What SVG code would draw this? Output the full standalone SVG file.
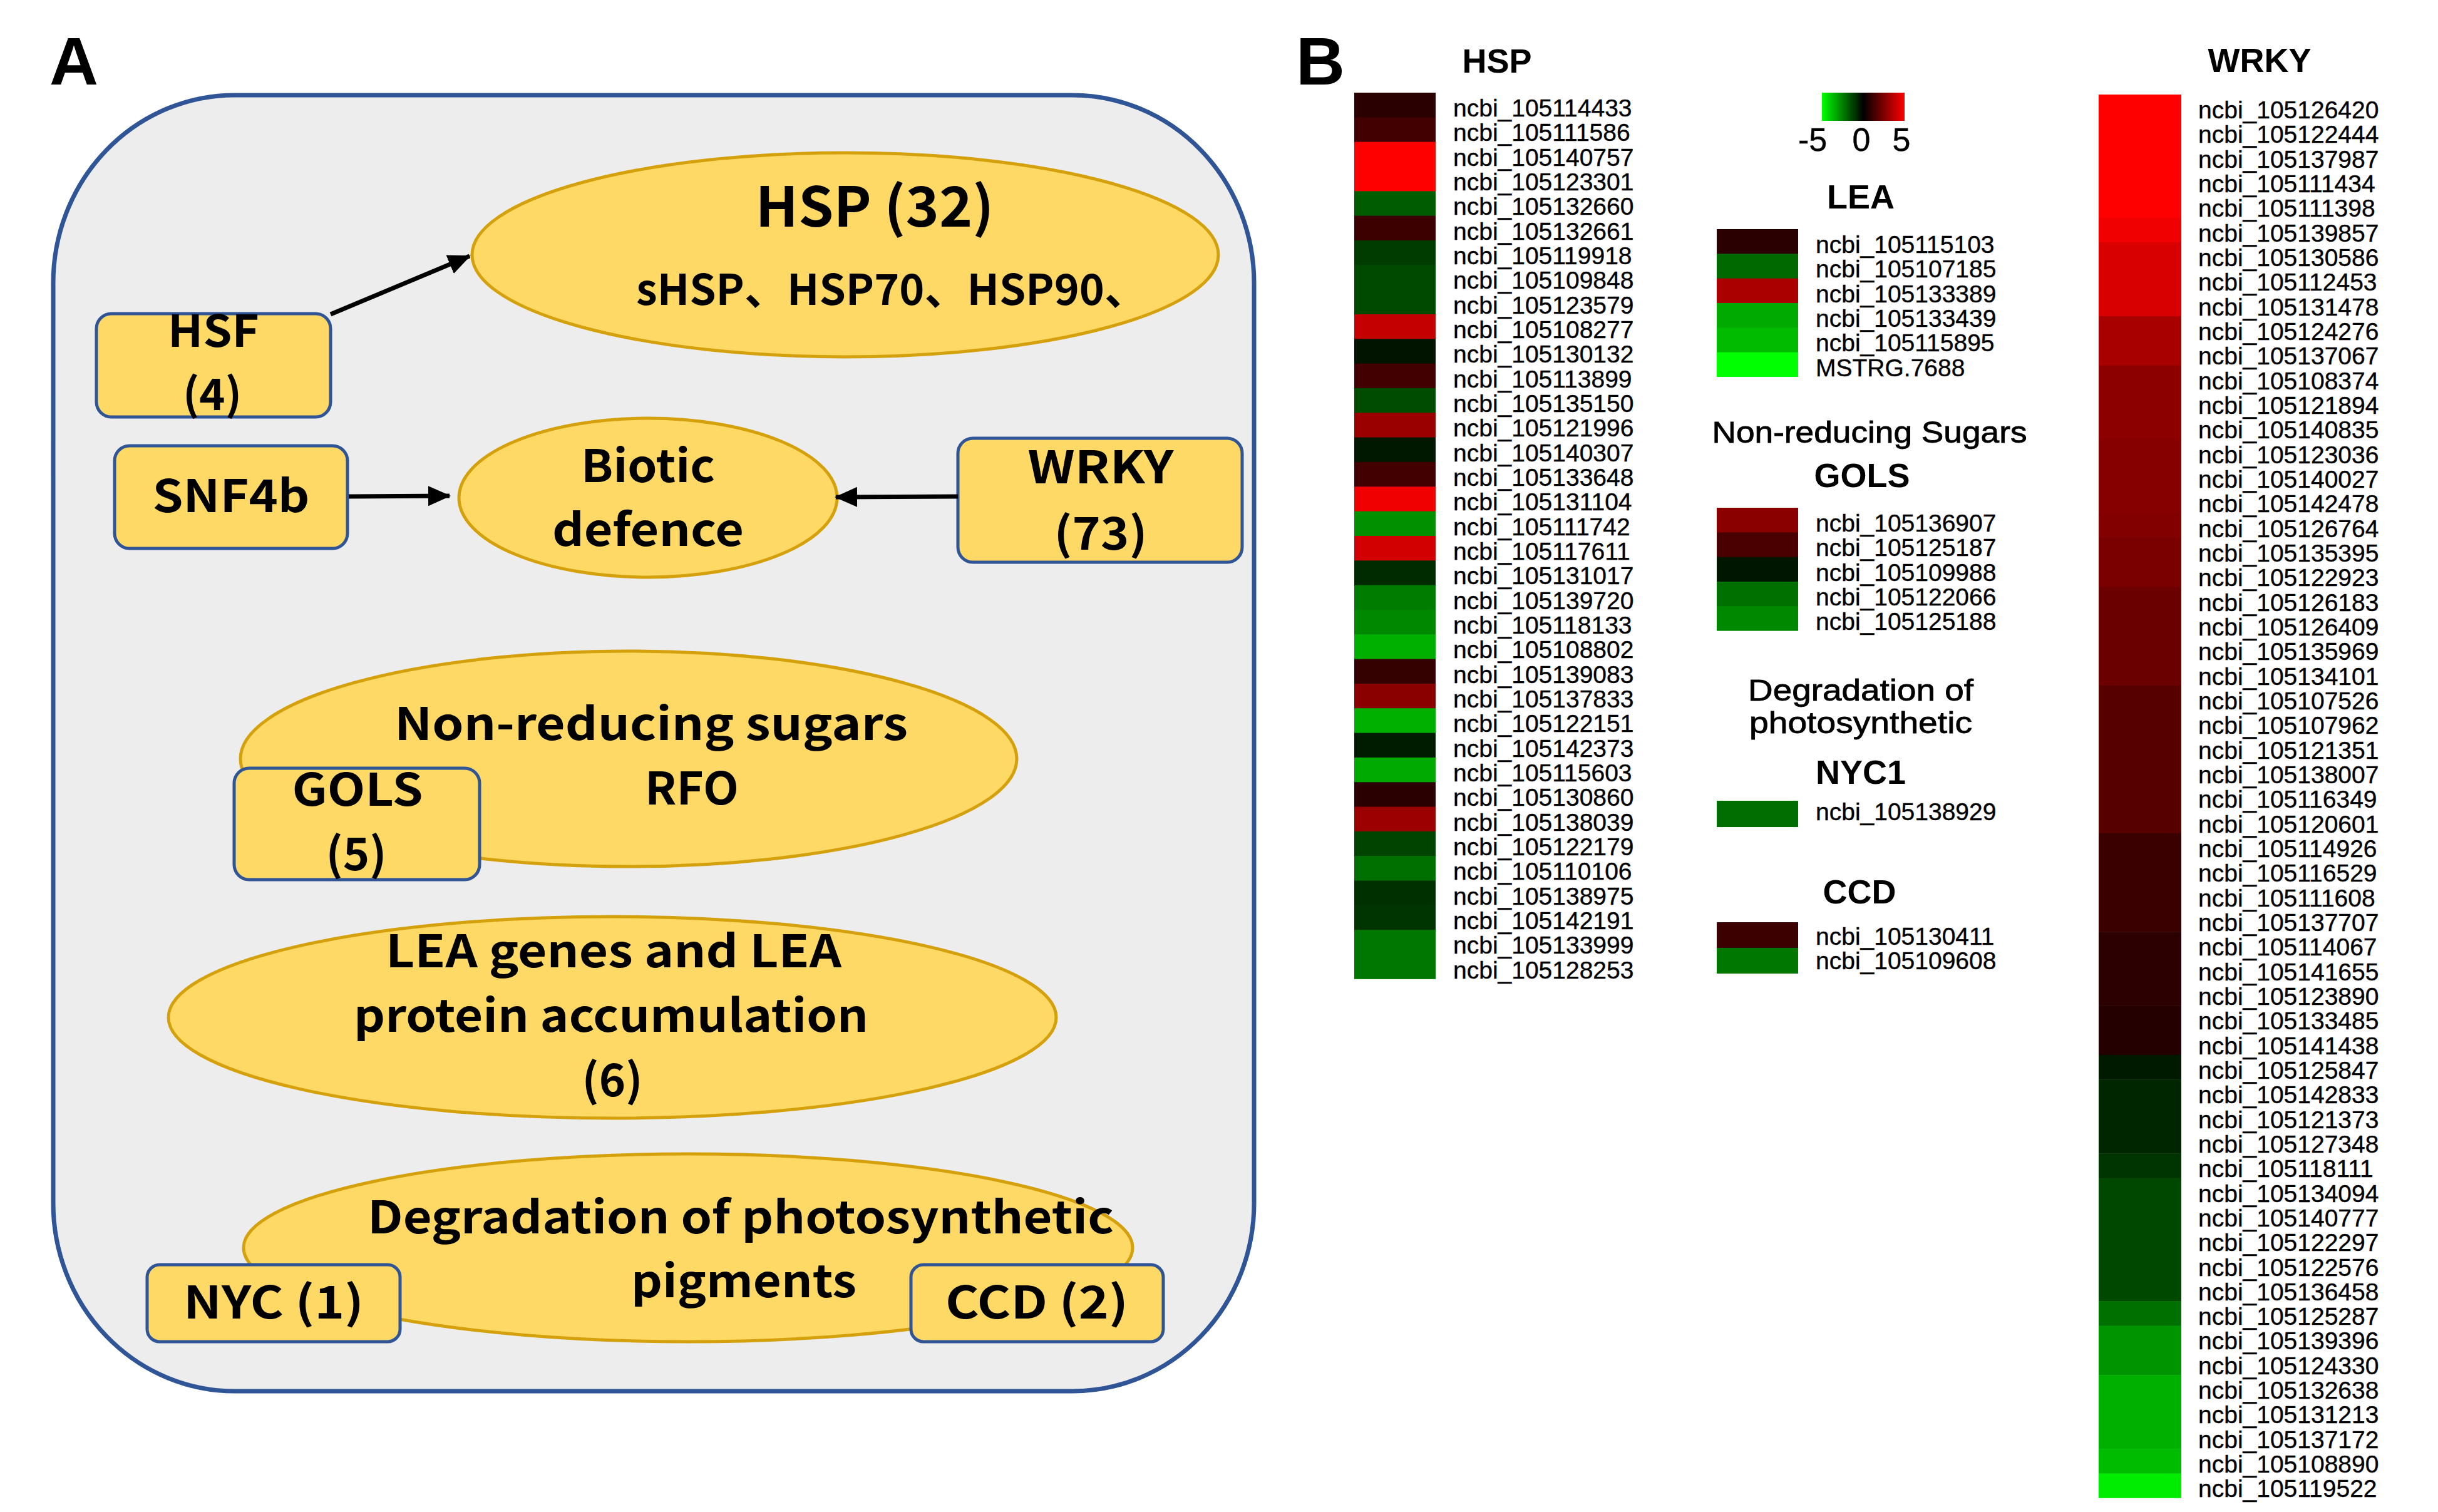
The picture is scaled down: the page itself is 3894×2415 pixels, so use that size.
<svg xmlns="http://www.w3.org/2000/svg" width="3894" height="2415" viewBox="0 0 3894 2415">
<style>
.ell{fill:#ffd966;stroke:#d4a10c;stroke-width:5}
.box{fill:#ffd966;stroke:#2f5597;stroke-width:5}
.ta{font-family:"Noto Sans CJK SC","Liberation Sans",sans-serif;font-weight:bold;fill:#000;text-anchor:middle}
.lab{font-family:"Liberation Sans",Arial,sans-serif;font-size:39px;fill:#000;stroke:#000;stroke-width:0.4}
.tt{font-family:"Liberation Sans",Arial,sans-serif;font-weight:bold;font-size:54px;fill:#000;text-anchor:middle}
.tl{font-family:"Liberation Sans",Arial,sans-serif;font-size:48px;fill:#000;stroke:#000;stroke-width:0.8;text-anchor:middle}
.pl{font-family:"Liberation Sans",Arial,sans-serif;font-weight:bold;font-size:108px;fill:#000}
.conn{stroke:#000;stroke-width:7;fill:none;marker-end:url(#ah)}
</style>
<defs>
<marker id="ah" markerUnits="userSpaceOnUse" markerWidth="40" markerHeight="36" refX="34" refY="16" orient="auto">
<path d="M0,0 L36,16 L0,32 z" fill="#000"/>
</marker>
<linearGradient id="cbar" x1="0" y1="0" x2="1" y2="0">
<stop offset="0" stop-color="#00ff00"/>
<stop offset="0.5" stop-color="#000000"/>
<stop offset="1" stop-color="#ff0000"/>
</linearGradient>
</defs>
<rect width="3894" height="2415" fill="#ffffff"/>

<!-- Panel A -->
<text class="pl" x="79" y="135">A</text>
<rect id="panelA-bg" x="85" y="152" width="1918" height="2070" rx="290" ry="300" fill="#ededed" stroke="#2f5597" stroke-width="7"/>

<g id="n-hsp">
<ellipse class="ell" cx="1350" cy="407" rx="596" ry="163"/>
<text class="ta" x="1397" y="362" font-size="88" textLength="381" lengthAdjust="spacingAndGlyphs">HSP (32)</text>
<text class="ta" x="1016" y="487" font-size="68" style="text-anchor:start">sHSP、HSP70、HSP90、</text>
</g>
<g id="n-hsf">
<rect class="box" x="154" y="501" width="374" height="165" rx="24"/>
<text class="ta" x="341" y="554" font-size="70" textLength="146" lengthAdjust="spacingAndGlyphs">HSF</text>
<text class="ta" x="339" y="655" font-size="70">(4)</text>
</g>
<g id="n-snf4b">
<rect class="box" x="183" y="712" width="372" height="164" rx="24"/>
<text class="ta" x="369" y="818" font-size="72" textLength="251" lengthAdjust="spacingAndGlyphs">SNF4b</text>
</g>
<g id="n-biotic">
<ellipse class="ell" cx="1035" cy="795" rx="302" ry="127"/>
<text class="ta" x="1035" y="770" font-size="72" textLength="214" lengthAdjust="spacingAndGlyphs">Biotic</text>
<text class="ta" x="1035" y="872" font-size="72" textLength="306" lengthAdjust="spacingAndGlyphs">defence</text>
</g>
<g id="n-wrky">
<rect class="box" x="1530" y="700" width="454" height="198" rx="24"/>
<text class="ta" x="1758" y="772" font-size="72" textLength="233" lengthAdjust="spacingAndGlyphs">WRKY</text>
<text class="ta" x="1758" y="878" font-size="72" textLength="149" lengthAdjust="spacingAndGlyphs">(73)</text>
</g>
<g id="n-nonreducing">
<ellipse class="ell" cx="1004" cy="1212" rx="620" ry="172"/>
<text class="ta" x="1040" y="1182" font-size="72" textLength="820" lengthAdjust="spacingAndGlyphs">Non-reducing sugars</text>
<text class="ta" x="1105" y="1285" font-size="72" textLength="150" lengthAdjust="spacingAndGlyphs">RFO</text>
</g>
<g id="n-gols">
<rect class="box" x="374" y="1227" width="392" height="178" rx="24"/>
<text class="ta" x="571" y="1287" font-size="72" textLength="209" lengthAdjust="spacingAndGlyphs">GOLS</text>
<text class="ta" x="569" y="1390" font-size="72">(5)</text>
</g>
<g id="n-lea">
<ellipse class="ell" cx="978" cy="1625" rx="709" ry="161"/>
<text class="ta" x="980" y="1545" font-size="72" textLength="728" lengthAdjust="spacingAndGlyphs">LEA genes and LEA</text>
<text class="ta" x="976" y="1648" font-size="72" textLength="822" lengthAdjust="spacingAndGlyphs">protein accumulation</text>
<text class="ta" x="978" y="1751" font-size="72">(6)</text>
</g>
<g id="n-degradation">
<ellipse class="ell" cx="1099" cy="1993" rx="710" ry="150"/>
<text class="ta" x="1183" y="1970" font-size="72" textLength="1192" lengthAdjust="spacingAndGlyphs">Degradation of photosynthetic</text>
<text class="ta" x="1188" y="2072" font-size="72" textLength="360" lengthAdjust="spacingAndGlyphs">pigments</text>
</g>
<g id="n-nyc">
<rect class="box" x="235" y="2020" width="404" height="123" rx="20"/>
<text class="ta" x="437" y="2106" font-size="72" textLength="288" lengthAdjust="spacingAndGlyphs">NYC (1)</text>
</g>
<g id="n-ccd">
<rect class="box" x="1455" y="2020" width="403" height="123" rx="20"/>
<text class="ta" x="1656" y="2106" font-size="72" textLength="292" lengthAdjust="spacingAndGlyphs">CCD (2)</text>
</g>

<g id="connectors">
<line class="conn" x1="528" y1="502" x2="750" y2="409"/>
<line class="conn" x1="557" y1="793" x2="718" y2="792"/>
<line class="conn" x1="1530" y1="793" x2="1335" y2="794"/>
</g>

<!-- Panel B -->
<text class="pl" x="2070" y="135">B</text>

<g id="hm-hsp">
<text class="tt" x="2391" y="116">HSP</text>
<g transform="translate(2163,148)">
<rect x="0" y="0" width="130" height="40" fill="#2a0000"/>
<rect x="0" y="39.33" width="130" height="40" fill="#420000"/>
<rect x="0" y="78.66" width="130" height="40" fill="#ff0000"/>
<rect x="0" y="117.99" width="130" height="40" fill="#ff0000"/>
<rect x="0" y="157.32" width="130" height="40" fill="#005c00"/>
<rect x="0" y="196.65" width="130" height="40" fill="#3c0000"/>
<rect x="0" y="235.98" width="130" height="40" fill="#003c00"/>
<rect x="0" y="275.31" width="130" height="40" fill="#004a00"/>
<rect x="0" y="314.64" width="130" height="40" fill="#004a00"/>
<rect x="0" y="353.97" width="130" height="40" fill="#c40000"/>
<rect x="0" y="393.3" width="130" height="40" fill="#001400"/>
<rect x="0" y="432.63" width="130" height="40" fill="#420000"/>
<rect x="0" y="471.96" width="130" height="40" fill="#004c00"/>
<rect x="0" y="511.29" width="130" height="40" fill="#9a0000"/>
<rect x="0" y="550.62" width="130" height="40" fill="#001800"/>
<rect x="0" y="589.95" width="130" height="40" fill="#420000"/>
<rect x="0" y="629.28" width="130" height="40" fill="#f00000"/>
<rect x="0" y="668.61" width="130" height="40" fill="#009000"/>
<rect x="0" y="707.94" width="130" height="40" fill="#d20000"/>
<rect x="0" y="747.27" width="130" height="40" fill="#002a00"/>
<rect x="0" y="786.6" width="130" height="40" fill="#007c00"/>
<rect x="0" y="825.93" width="130" height="40" fill="#008800"/>
<rect x="0" y="865.26" width="130" height="40" fill="#00b000"/>
<rect x="0" y="904.59" width="130" height="40" fill="#340000"/>
<rect x="0" y="943.92" width="130" height="40" fill="#8a0000"/>
<rect x="0" y="983.25" width="130" height="40" fill="#00b000"/>
<rect x="0" y="1022.58" width="130" height="40" fill="#001c00"/>
<rect x="0" y="1061.91" width="130" height="40" fill="#00aa00"/>
<rect x="0" y="1101.24" width="130" height="40" fill="#2a0000"/>
<rect x="0" y="1140.57" width="130" height="40" fill="#9c0000"/>
<rect x="0" y="1179.9" width="130" height="40" fill="#004400"/>
<rect x="0" y="1219.23" width="130" height="40" fill="#007000"/>
<rect x="0" y="1258.56" width="130" height="40" fill="#003000"/>
<rect x="0" y="1297.89" width="130" height="40" fill="#003400"/>
<rect x="0" y="1337.22" width="130" height="40" fill="#007800"/>
<rect x="0" y="1376.55" width="130" height="39.33" fill="#007800"/>
</g>
<text class="lab" x="2321" y="186"><tspan x="2321" dy="0">ncbi_105114433</tspan><tspan x="2321" dy="39.33">ncbi_105111586</tspan><tspan x="2321" dy="39.33">ncbi_105140757</tspan><tspan x="2321" dy="39.33">ncbi_105123301</tspan><tspan x="2321" dy="39.33">ncbi_105132660</tspan><tspan x="2321" dy="39.33">ncbi_105132661</tspan><tspan x="2321" dy="39.33">ncbi_105119918</tspan><tspan x="2321" dy="39.33">ncbi_105109848</tspan><tspan x="2321" dy="39.33">ncbi_105123579</tspan><tspan x="2321" dy="39.33">ncbi_105108277</tspan><tspan x="2321" dy="39.33">ncbi_105130132</tspan><tspan x="2321" dy="39.33">ncbi_105113899</tspan><tspan x="2321" dy="39.33">ncbi_105135150</tspan><tspan x="2321" dy="39.33">ncbi_105121996</tspan><tspan x="2321" dy="39.33">ncbi_105140307</tspan><tspan x="2321" dy="39.33">ncbi_105133648</tspan><tspan x="2321" dy="39.33">ncbi_105131104</tspan><tspan x="2321" dy="39.33">ncbi_105111742</tspan><tspan x="2321" dy="39.33">ncbi_105117611</tspan><tspan x="2321" dy="39.33">ncbi_105131017</tspan><tspan x="2321" dy="39.33">ncbi_105139720</tspan><tspan x="2321" dy="39.33">ncbi_105118133</tspan><tspan x="2321" dy="39.33">ncbi_105108802</tspan><tspan x="2321" dy="39.33">ncbi_105139083</tspan><tspan x="2321" dy="39.33">ncbi_105137833</tspan><tspan x="2321" dy="39.33">ncbi_105122151</tspan><tspan x="2321" dy="39.33">ncbi_105142373</tspan><tspan x="2321" dy="39.33">ncbi_105115603</tspan><tspan x="2321" dy="39.33">ncbi_105130860</tspan><tspan x="2321" dy="39.33">ncbi_105138039</tspan><tspan x="2321" dy="39.33">ncbi_105122179</tspan><tspan x="2321" dy="39.33">ncbi_105110106</tspan><tspan x="2321" dy="39.33">ncbi_105138975</tspan><tspan x="2321" dy="39.33">ncbi_105142191</tspan><tspan x="2321" dy="39.33">ncbi_105133999</tspan><tspan x="2321" dy="39.33">ncbi_105128253</tspan></text>
</g>

<g id="colorbar">
<rect x="2910" y="148" width="132" height="45" fill="url(#cbar)"/>
<text class="lab" x="2872" y="241" style="font-size:52px">-5</text>
<text class="lab" x="2973" y="241" style="font-size:52px;text-anchor:middle">0</text>
<text class="lab" x="3037" y="241" style="font-size:52px;text-anchor:middle">5</text>
</g>

<g id="hm-lea">
<text class="tt" x="2972" y="333">LEA</text>
<g transform="translate(2742,366)">
<rect x="0" y="0" width="130" height="40" fill="#2a0000"/>
<rect x="0" y="39.33" width="130" height="40" fill="#006a00"/>
<rect x="0" y="78.66" width="130" height="40" fill="#aa0000"/>
<rect x="0" y="117.99" width="130" height="40" fill="#00aa00"/>
<rect x="0" y="157.32" width="130" height="40" fill="#00bb00"/>
<rect x="0" y="196.65" width="130" height="39.33" fill="#00ff00"/>
</g>
<text class="lab" x="2900" y="404"><tspan x="2900" dy="0">ncbi_105115103</tspan><tspan x="2900" dy="39.33">ncbi_105107185</tspan><tspan x="2900" dy="39.33">ncbi_105133389</tspan><tspan x="2900" dy="39.33">ncbi_105133439</tspan><tspan x="2900" dy="39.33">ncbi_105115895</tspan><tspan x="2900" dy="39.33">MSTRG.7688</tspan></text>
</g>

<g id="hm-gols">
<text class="tl" x="2986" y="707" textLength="503" lengthAdjust="spacingAndGlyphs">Non-reducing Sugars</text>
<text class="tt" x="2974" y="778">GOLS</text>
<g transform="translate(2742,811)">
<rect x="0" y="0" width="130" height="40" fill="#8a0000"/>
<rect x="0" y="39.33" width="130" height="40" fill="#4a0000"/>
<rect x="0" y="78.66" width="130" height="40" fill="#001600"/>
<rect x="0" y="117.99" width="130" height="40" fill="#007000"/>
<rect x="0" y="157.32" width="130" height="39.33" fill="#008800"/>
</g>
<text class="lab" x="2900" y="849"><tspan x="2900" dy="0">ncbi_105136907</tspan><tspan x="2900" dy="39.33">ncbi_105125187</tspan><tspan x="2900" dy="39.33">ncbi_105109988</tspan><tspan x="2900" dy="39.33">ncbi_105122066</tspan><tspan x="2900" dy="39.33">ncbi_105125188</tspan></text>
</g>

<g id="hm-nyc1">
<text class="tl" x="2972" y="1119" textLength="360" lengthAdjust="spacingAndGlyphs">Degradation of</text>
<text class="tl" x="2972" y="1171" textLength="356" lengthAdjust="spacingAndGlyphs">photosynthetic</text>
<text class="tt" x="2972" y="1252">NYC1</text>
<rect x="2742" y="1279" width="130" height="42" fill="#006e00"/>
<text class="lab" x="2900" y="1310">ncbi_105138929</text>
</g>

<g id="hm-ccd">
<text class="tt" x="2970" y="1443">CCD</text>
<rect x="2742" y="1473" width="130" height="42" fill="#3c0000"/>
<rect x="2742" y="1514" width="130" height="41" fill="#007800"/>
<text class="lab" x="2900" y="1509">ncbi_105130411</text>
<text class="lab" x="2900" y="1548">ncbi_105109608</text>
</g>

<g id="hm-wrky">
<text class="tt" x="3609" y="115">WRKY</text>
<g transform="translate(3352,151)">
<rect x="0" y="0" width="132" height="197.2" fill="#ff0000"/>
<rect x="0" y="196.65" width="132" height="39.8" fill="#f00000"/>
<rect x="0" y="235.98" width="132" height="118.5" fill="#d80000"/>
<rect x="0" y="353.97" width="132" height="79.2" fill="#a80000"/>
<rect x="0" y="432.63" width="132" height="118.5" fill="#8c0000"/>
<rect x="0" y="550.62" width="132" height="118.5" fill="#860000"/>
<rect x="0" y="668.61" width="132" height="39.8" fill="#820000"/>
<rect x="0" y="707.94" width="132" height="79.2" fill="#7a0000"/>
<rect x="0" y="786.6" width="132" height="157.8" fill="#6a0000"/>
<rect x="0" y="943.92" width="132" height="236.5" fill="#560000"/>
<rect x="0" y="1179.9" width="132" height="157.8" fill="#3a0000"/>
<rect x="0" y="1337.22" width="132" height="118.5" fill="#2c0000"/>
<rect x="0" y="1455.21" width="132" height="79.2" fill="#240000"/>
<rect x="0" y="1533.87" width="132" height="39.8" fill="#001a00"/>
<rect x="0" y="1573.2" width="132" height="118.5" fill="#002600"/>
<rect x="0" y="1691.19" width="132" height="39.8" fill="#003400"/>
<rect x="0" y="1730.52" width="132" height="197.2" fill="#004800"/>
<rect x="0" y="1927.17" width="132" height="39.8" fill="#007000"/>
<rect x="0" y="1966.5" width="132" height="79.2" fill="#009400"/>
<rect x="0" y="2045.16" width="132" height="118.5" fill="#00b000"/>
<rect x="0" y="2163.15" width="132" height="39.8" fill="#00bc00"/>
<rect x="0" y="2202.48" width="132" height="39.33" fill="#00ec00"/>
</g>
<text class="lab" x="3511" y="189"><tspan x="3511" dy="0">ncbi_105126420</tspan><tspan x="3511" dy="39.33">ncbi_105122444</tspan><tspan x="3511" dy="39.33">ncbi_105137987</tspan><tspan x="3511" dy="39.33">ncbi_105111434</tspan><tspan x="3511" dy="39.33">ncbi_105111398</tspan><tspan x="3511" dy="39.33">ncbi_105139857</tspan><tspan x="3511" dy="39.33">ncbi_105130586</tspan><tspan x="3511" dy="39.33">ncbi_105112453</tspan><tspan x="3511" dy="39.33">ncbi_105131478</tspan><tspan x="3511" dy="39.33">ncbi_105124276</tspan><tspan x="3511" dy="39.33">ncbi_105137067</tspan><tspan x="3511" dy="39.33">ncbi_105108374</tspan><tspan x="3511" dy="39.33">ncbi_105121894</tspan><tspan x="3511" dy="39.33">ncbi_105140835</tspan><tspan x="3511" dy="39.33">ncbi_105123036</tspan><tspan x="3511" dy="39.33">ncbi_105140027</tspan><tspan x="3511" dy="39.33">ncbi_105142478</tspan><tspan x="3511" dy="39.33">ncbi_105126764</tspan><tspan x="3511" dy="39.33">ncbi_105135395</tspan><tspan x="3511" dy="39.33">ncbi_105122923</tspan><tspan x="3511" dy="39.33">ncbi_105126183</tspan><tspan x="3511" dy="39.33">ncbi_105126409</tspan><tspan x="3511" dy="39.33">ncbi_105135969</tspan><tspan x="3511" dy="39.33">ncbi_105134101</tspan><tspan x="3511" dy="39.33">ncbi_105107526</tspan><tspan x="3511" dy="39.33">ncbi_105107962</tspan><tspan x="3511" dy="39.33">ncbi_105121351</tspan><tspan x="3511" dy="39.33">ncbi_105138007</tspan><tspan x="3511" dy="39.33">ncbi_105116349</tspan><tspan x="3511" dy="39.33">ncbi_105120601</tspan><tspan x="3511" dy="39.33">ncbi_105114926</tspan><tspan x="3511" dy="39.33">ncbi_105116529</tspan><tspan x="3511" dy="39.33">ncbi_105111608</tspan><tspan x="3511" dy="39.33">ncbi_105137707</tspan><tspan x="3511" dy="39.33">ncbi_105114067</tspan><tspan x="3511" dy="39.33">ncbi_105141655</tspan><tspan x="3511" dy="39.33">ncbi_105123890</tspan><tspan x="3511" dy="39.33">ncbi_105133485</tspan><tspan x="3511" dy="39.33">ncbi_105141438</tspan><tspan x="3511" dy="39.33">ncbi_105125847</tspan><tspan x="3511" dy="39.33">ncbi_105142833</tspan><tspan x="3511" dy="39.33">ncbi_105121373</tspan><tspan x="3511" dy="39.33">ncbi_105127348</tspan><tspan x="3511" dy="39.33">ncbi_105118111</tspan><tspan x="3511" dy="39.33">ncbi_105134094</tspan><tspan x="3511" dy="39.33">ncbi_105140777</tspan><tspan x="3511" dy="39.33">ncbi_105122297</tspan><tspan x="3511" dy="39.33">ncbi_105122576</tspan><tspan x="3511" dy="39.33">ncbi_105136458</tspan><tspan x="3511" dy="39.33">ncbi_105125287</tspan><tspan x="3511" dy="39.33">ncbi_105139396</tspan><tspan x="3511" dy="39.33">ncbi_105124330</tspan><tspan x="3511" dy="39.33">ncbi_105132638</tspan><tspan x="3511" dy="39.33">ncbi_105131213</tspan><tspan x="3511" dy="39.33">ncbi_105137172</tspan><tspan x="3511" dy="39.33">ncbi_105108890</tspan><tspan x="3511" dy="39.33">ncbi_105119522</tspan></text>
</g>
</svg>
